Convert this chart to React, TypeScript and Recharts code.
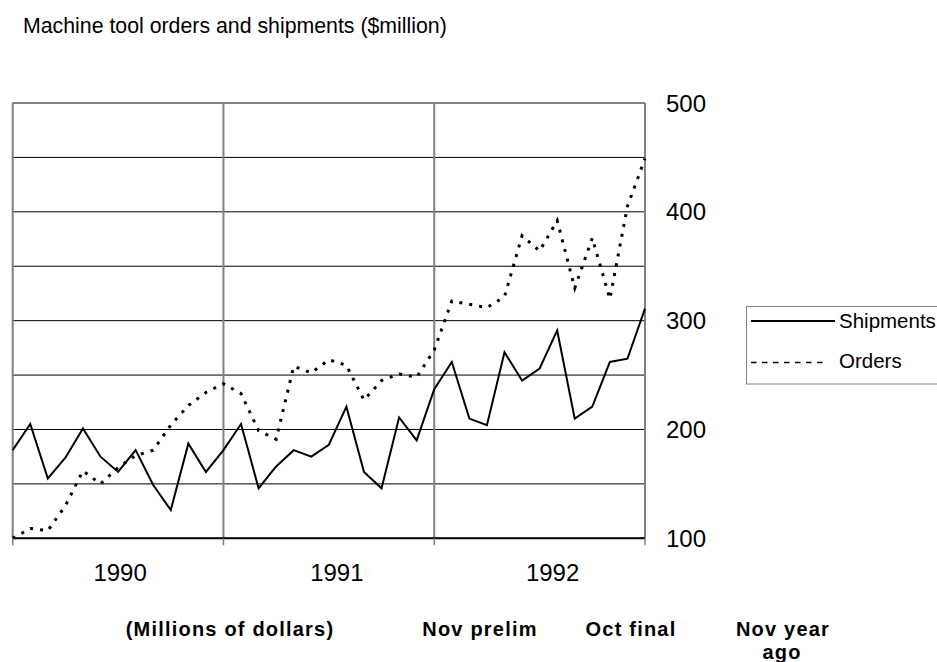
import React from 'react';
import { LineChart, Line, XAxis, YAxis, CartesianGrid, ReferenceLine, Legend } from 'recharts';

const months = [
  'Jan 90', 'Feb 90', 'Mar 90', 'Apr 90', 'May 90', 'Jun 90', 'Jul 90', 'Aug 90', 'Sep 90', 'Oct 90', 'Nov 90', 'Dec 90',
  'Jan 91', 'Feb 91', 'Mar 91', 'Apr 91', 'May 91', 'Jun 91', 'Jul 91', 'Aug 91', 'Sep 91', 'Oct 91', 'Nov 91', 'Dec 91',
  'Jan 92', 'Feb 92', 'Mar 92', 'Apr 92', 'May 92', 'Jun 92', 'Jul 92', 'Aug 92', 'Sep 92', 'Oct 92', 'Nov 92', 'Dec 92',
  'Jan 93',
];

const shipments = [
  181, 205, 155, 174, 201, 175, 161, 181, 149, 126, 187, 161,
  181, 205, 146, 166, 181, 175, 186, 221, 161, 146, 211, 190,
  237, 262, 210, 204, 271, 245, 256, 291, 210, 221, 262, 265,
  311,
];

const orders = [
  100, 109, 107, 130, 162, 150, 165, 176, 181, 204, 222, 234,
  242, 233, 199, 191, 258, 252, 264, 259, 227, 245, 251, 248,
  273, 318, 315, 312, 322, 378, 364, 392, 330, 376, 320, 405,
  449,
];

const yearLabels = ['1990', '1991', '1992'];
const yTicks = [100, 150, 200, 250, 300, 350, 400, 450, 500];
const xTicks = [0, 6, 12, 18, 24, 30, 36];
const seriesNames = ['Shipments', 'Orders'];
const title = 'Machine tool orders and shipments ($million)';
const footLabels = ['(Millions of dollars)', 'Nov prelim', 'Oct final', 'Nov year', 'ago'];

const data = months.map((m, i) => ({ i, month: m, shipments: shipments[i], orders: orders[i] }));

const FONT = '"Liberation Sans", Arial, Helvetica, sans-serif';
const yearDx = [2, 8, 13];

const XTick = (props: any) => {
  const { x, y, payload } = props;
  const v = payload.value;
  if (v % 12 === 0) {
    return <line x1={x} x2={x} y1={y - 6} y2={y + 1} stroke="#808080" strokeWidth={1.5} />;
  }
  const idx = Math.round((v - 6) / 12);
  return (
    <text x={x + yearDx[idx]} y={y + 36.4} textAnchor="middle" fontSize={24} fontFamily={FONT} fill="#000">
      {yearLabels[idx]}
    </text>
  );
};

const LegendBox = () => (
  <svg width={192} height={79} style={{ display: 'block', overflow: 'visible' }}>
    <rect x={0.5} y={0.5} width={200} height={77.5} fill="#fff" stroke="#808080" strokeWidth={1} />
    <line x1={5} x2={89} y1={15} y2={15} stroke="#000" strokeWidth={2} />
    <text x={93} y={21.5} fontSize={20.5} fontFamily={FONT} fill="#000">{seriesNames[0]}</text>
    <line x1={5} x2={82} y1={56.6} y2={56.6} stroke="#000" strokeWidth={1.5} strokeDasharray="5.5 5.5" />
    <text x={93} y={61.5} fontSize={20.5} fontFamily={FONT} fill="#000">{seriesNames[1]}</text>
  </svg>
);

export default function App() {
  return (
    <div style={{ position: 'absolute', left: 0, top: 0, width: 937, height: 662, background: '#fff' }}>
      <LineChart
        width={937}
        height={662}
        data={data}
        margin={{ top: 103, left: 12.7, right: 252, bottom: 83.7 }}
      >
        <CartesianGrid vertical={false} stroke="#000" strokeWidth={1} horizontalValues={yTicks} />
        <XAxis
          dataKey="i"
          type="number"
          domain={[0, 36]}
          ticks={xTicks}
          interval={0}
          height={40}
          tickSize={6}
          tickMargin={0}
          tickLine={false}
          axisLine={{ stroke: '#000', strokeWidth: 2 }}
          tick={<XTick />}
          allowDecimals={false}
        />
        <YAxis
          orientation="right"
          type="number"
          domain={[100, 500]}
          ticks={yTicks}
          interval={0}
          width={40}
          axisLine={false}
          tickLine={false}
          tickSize={6}
          tickMargin={15}
          tick={{ fontSize: 24, fontFamily: FONT, fill: '#000' }}
          tickFormatter={(v: number) => (v % 100 === 0 ? String(v) : '')}
        />
        <ReferenceLine y={500} stroke="#808080" strokeWidth={1.5} />
        <ReferenceLine x={0} stroke="#808080" strokeWidth={2} />
        <ReferenceLine x={12} stroke="#808080" strokeWidth={2} />
        <ReferenceLine x={24} stroke="#808080" strokeWidth={2} />
        <ReferenceLine x={36} stroke="#808080" strokeWidth={2} />
        <Line
          type="linear"
          dataKey="shipments"
          name={seriesNames[0]}
          stroke="#000"
          strokeWidth={2}
          dot={false}
          isAnimationActive={false}
        />
        <Line
          type="linear"
          dataKey="orders"
          name={seriesNames[1]}
          stroke="#000"
          strokeWidth={3}
          strokeDasharray="3 7"
          dot={false}
          isAnimationActive={false}
        />
        <Legend
          layout="vertical"
          align="center"
          verticalAlign="middle"
          content={<LegendBox />}
          wrapperStyle={{ left: 746, top: 306, width: 192, height: 79 }}
        />
      </LineChart>
      <svg
        width={937}
        height={662}
        style={{ position: 'absolute', left: 0, top: 0, pointerEvents: 'none' }}
      >
        <text x={23} y={32.5} fontSize={21.3} fontFamily={FONT} fill="#000">{title}</text>
        <g fontFamily={FONT} fontWeight="bold" fontSize={20} letterSpacing={1.2} fill="#000" textAnchor="middle">
          <text x={230} y={635.5}>{footLabels[0]}</text>
          <text x={480} y={635.5}>{footLabels[1]}</text>
          <text x={631} y={635.5}>{footLabels[2]}</text>
          <text x={783} y={635.5}>{footLabels[3]}</text>
          <text x={782} y={659}>{footLabels[4]}</text>
        </g>
      </svg>
    </div>
  );
}
